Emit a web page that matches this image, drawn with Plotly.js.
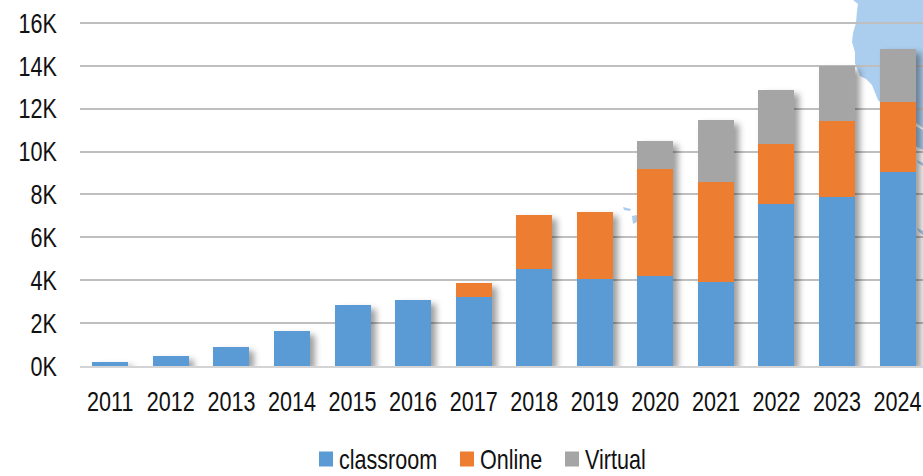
<!DOCTYPE html>
<html><head><meta charset="utf-8"><script src="https://cdn.plot.ly/plotly-3.0.1.min.js"></script>
<style>html,body{margin:0;padding:0;background:#fff;overflow:hidden}
.barlayer{filter:drop-shadow(5px 4px 3px rgba(0,0,0,.38))}</style></head><body><div id="c" style="width:923px;height:476px"></div>
<script>
const years=['2011','2012','2013','2014','2015','2016','2017','2018','2019','2020','2021','2022','2023','2024'];
const classroom=[200,480,900,1640,2850,3100,3200,4500,4050,4200,3900,7550,7900,9050];
const online=[0,0,0,0,0,0,650,2550,3150,5000,4700,2800,3500,3250];
const virtual=[0,0,0,0,0,0,0,0,0,1300,2850,2500,2600,2500];
const yTicks=[0,2000,4000,6000,8000,10000,12000,14000,16000];
const yLabels=['0K','2K','4K','6K','8K','10K','12K','14K','16K'];
const W=923,H=476,L=80,B=110;
const px=p=>p.map(([x,y],i)=>(i?'L':'M')+((x-L)/(W-L)).toFixed(4)+','+(1-y/(H-B)).toFixed(4)).join(' ')+' Z';
const mapColor='#abcdee';
const blobs=[
 [[853,0],[858,4],[857,11],[856,23],[853,33],[852,42],[855,52],[855,63],[860,76],[866,79],[872,85],[878,100],[890,112],[915,122],[923,128],[923,0]],
 [[632,216],[637,215],[637,222],[633,224]],
 [[623,207],[631,209],[630,211],[624,210]],
 [[915,126],[923,130],[923,150],[915,146]],
 [[917,160],[923,163],[923,166],[918,163]],
 [[917,228],[923,231],[923,235],[919,232]]
];
const mk=(name,y,color)=>({type:'bar',name,x:years,y,marker:{color,line:{width:0}}});
const F='"Liberation Sans",Arial,sans-serif', FS=28, NARROW=0.77;
Plotly.newPlot('c',[mk('classroom',classroom,'#5b9bd5'),mk('Online',online,'#ed7d31'),mk('Virtual',virtual,'#a5a5a5')],{
 width:W,height:H,barmode:'stack',bargap:0.406,paper_bgcolor:'#fff',plot_bgcolor:'rgba(0,0,0,0)',showlegend:true,
 margin:{l:L,r:0,t:0,b:B,pad:0},
 font:{family:F,size:FS,color:'#111'},
 shapes:blobs.map(b=>({type:'path',xref:'paper',yref:'paper',layer:'below',path:px(b),fillcolor:mapColor,line:{width:0}})),
 xaxis:{type:'category',range:[-0.5,13.42],showgrid:false,showline:true,linecolor:'#d4d4d4',linewidth:2,ticks:'',tickangle:0,ticklabelstandoff:9,tickfont:{size:FS},automargin:false},
 yaxis:{range:[0,17063],tickvals:yTicks,ticktext:yLabels,gridcolor:'#bfbfbf',gridwidth:2,zeroline:false,ticks:'',ticklabelstandoff:22,tickfont:{size:FS},automargin:false},
 legend:{orientation:'h',x:0.5,xanchor:'center',y:0.5,yanchor:'middle',font:{size:FS},traceorder:'normal'}
},{displayModeBar:false}).then(gd=>{
 const narrow=t=>{const l=t.getComputedTextLength();t.setAttribute('textLength',(l*NARROW).toFixed(1));t.setAttribute('lengthAdjust','spacingAndGlyphs');};
 gd.querySelectorAll('.xtick text,.ytick text,.legendtext').forEach(narrow);
 const leg=gd.querySelector('.legend');
 leg.setAttribute('transform','translate(0,0)');
 leg.querySelectorAll('[clip-path]').forEach(e=>e.removeAttribute('clip-path'));
 leg.removeAttribute('clip-path');
 const bg=leg.querySelector('.bg');if(bg)bg.style.display='none';
 const sb=leg.querySelector('.scrollbox');if(sb){sb.setAttribute('transform','translate(0,0)');sb.removeAttribute('clip-path');}
 const xs=[319,460,565];
 leg.querySelectorAll('.traces').forEach((g,i)=>{
  g.setAttribute('transform',`translate(${xs[i]},459)`);
  const p=g.querySelector('.legendpoints path');
  p.setAttribute('d','M0,-7.5H14V7.5H0Z');p.setAttribute('transform','translate(0,0)');
  const t=g.querySelector('.legendtext');t.setAttribute('x',20);t.setAttribute('y',10);
 });
});
</script></body></html>
